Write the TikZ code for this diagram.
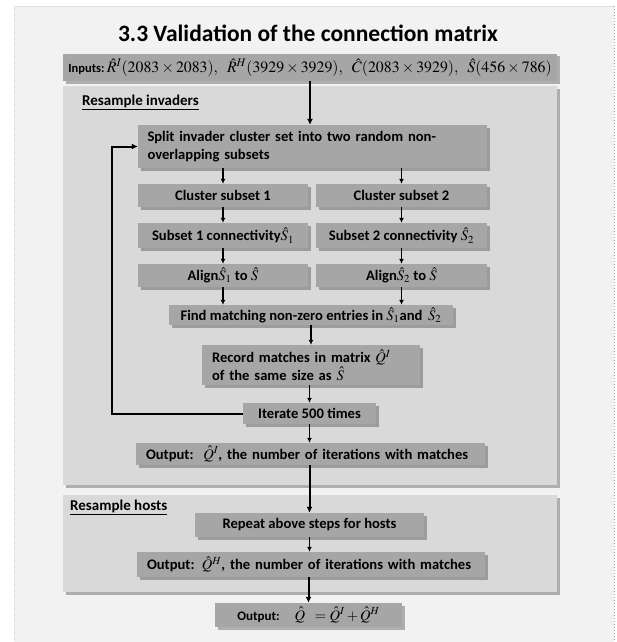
\documentclass[tikz,border=0pt]{standalone}
\usepackage{mathptmx}
\usepackage[no-math]{fontspec}
\setmainfont{Carlito}
\usetikzlibrary{arrows.meta,shadows}
\definecolor{bgc}{HTML}{F2F2F2}
\definecolor{panelc}{HTML}{D9D9D9}
\definecolor{boxc}{HTML}{A6A6A6}
\tikzset{
  shad/.style={drop shadow={shadow xshift=2.5pt,shadow yshift=-2.5pt,fill=black,opacity=0.28}},
  boxs/.style={fill=boxc, shad, inner sep=0pt, text=black,
    font=\fontsize{14.6}{17.5}\selectfont\bfseries},
  panels/.style={fill=panelc, shad, inner sep=0pt},
  lbl/.style={inner sep=0pt, anchor=base west, font=\fontsize{15}{17}\selectfont\bfseries},
  arr/.style={-{Latex[length=5pt,width=5pt]}, line width=1.4pt},
  bigarr/.style={-{Latex[length=6pt,width=6pt]}, line width=2pt},
}
\begin{document}
\begin{tikzpicture}[x=1pt,y=-1pt]
\useasboundingbox (0,0) rectangle (616,642);
\fill[white] (0,0) rectangle (616,642);
\fill[bgc] (14,6) rectangle (614,642);
\draw[gray!35, dotted] (14,642) -- (14,6);
\draw[gray!25] (14,6) -- (614,6);
\draw[gray!70, dotted, line width=1pt] (614,6) -- (614,642);

% title
\node[font=\fontsize{23.5}{28}\selectfont\bfseries, inner sep=0pt] (title) at (308,33) {3.3 Validation of the connection matrix};

% inputs
\node[boxs, minimum width=494pt, minimum height=27pt] (inputs) at (310,67.5)
  {{\fontsize{12.5}{14}\selectfont\bfseries Inputs:}\,{\fontsize{15.8}{18}\selectfont\mdseries $\hat{R}^{I}(2083\times2083),\ \ \hat{R}^{H}(3929\times3929),\ \ \hat{C}(2083\times3929),\ \ \hat{S}(456\times786)$}};

% panels
\node[panels, minimum width=494pt, minimum height=399pt] (panelI) at (310,285.5) {};
\node[lbl] (labI) at (82,105) {\underline{Resample invaders}};
\node[panels, minimum width=494pt, minimum height=97pt] (panelH) at (310,543.5) {};
\node[lbl] (labH) at (70,510) {\underline{Resample hosts}};

% invader steps
\node[boxs, minimum width=349pt, minimum height=43pt, text width=330pt, align=left] (split) at (312.5,146.5)
  {Split invader cluster set into two random non-\\overlapping subsets};
\node[boxs, minimum width=170pt, minimum height=23pt] (c1) at (223,195.5) {Cluster subset 1};
\node[boxs, minimum width=171pt, minimum height=23pt] (c2) at (401.5,195.5) {Cluster subset 2};
\node[boxs, minimum width=170pt, minimum height=25pt] (s1) at (223,235.5) {Subset 1 connectivity$\hat{S}_{1}$};
\node[boxs, minimum width=171pt, minimum height=25pt] (s2) at (401.5,235.5) {Subset 2 connectivity $\hat{S}_{2}$};
\node[boxs, minimum width=170pt, minimum height=23pt] (a1) at (223,275.5) {Align$\hat{S}_{1}$ to $\hat{S}$};
\node[boxs, minimum width=171pt, minimum height=23pt] (a2) at (401.5,275.5) {Align$\hat{S}_{2}$ to $\hat{S}$};
\node[boxs, minimum width=284pt, minimum height=20pt] (find) at (311,315) {Find matching non-zero entries in $\hat{S}_{1}$and \,$\hat{S}_{2}$};
\node[boxs, minimum width=218pt, minimum height=40pt, text width=198pt, align=left] (rec) at (311,365)
  {Record matches in matrix $\hat{Q}^{I}$\\of the same size as $\hat{S}$};
\node[boxs, minimum width=133pt, minimum height=21pt] (iter) at (309.5,413.5) {Iterate 500 times};
\node[boxs, minimum width=349pt, minimum height=22pt, text width=329pt, align=left] (outI) at (310.5,454)
  {Output:\ \ $\hat{Q}^{I}$, the number of iterations with matches};

% host steps
\node[boxs, minimum width=229pt, minimum height=24pt] (rep) at (309.5,525) {Repeat above steps for hosts};
\node[boxs, minimum width=348pt, minimum height=25pt, text width=328pt, align=left] (outH) at (311,564.5)
  {Output: $\hat{Q}^{H}$, the number of iterations with matches};
\node[boxs, minimum width=187pt, minimum height=24pt] (final) at (308.5,615)
  {{\fontsize{13}{15}\selectfont Output:}\hspace{15pt}$\hat{Q}\ \ =\hat{Q}^{I}+\hat{Q}^{H}$\hspace{12pt}};

% connectors
\coordinate (loopc) at (112,413.5);
\draw[bigarr] (inputs.south) -- (inputs.south |- split.north);
\draw[arr] (c1.north |- split.south) -- (c1.north);
\draw[arr] (c2.north |- split.south) -- (c2.north);
\draw[arr] (c1.south) -- (s1.north);
\draw[arr] (c2.south) -- (s2.north);
\draw[arr] (s1.south) -- (a1.north);
\draw[arr] (s2.south) -- (a2.north);
\draw[arr] (a1.south) -- (a1.south |- find.north);
\draw[arr] (a2.south) -- (a2.south |- find.north);
\draw[arr] (find.south) -- (find.south |- rec.north);
\draw[arr] (rec.south -| iter.north) -- (iter.north);
\draw[arr] (iter.south) -- (iter.south |- outI.north);
\draw[bigarr] (iter.west) -- (loopc) |- (split.west);
\draw[bigarr] (outI.south -| rep.north) -- (rep.north);
\draw[arr] (rep.south) -- (rep.south |- outH.north);
\draw[bigarr] (outH.south -| final.north) -- (final.north);
\end{tikzpicture}
\end{document}
